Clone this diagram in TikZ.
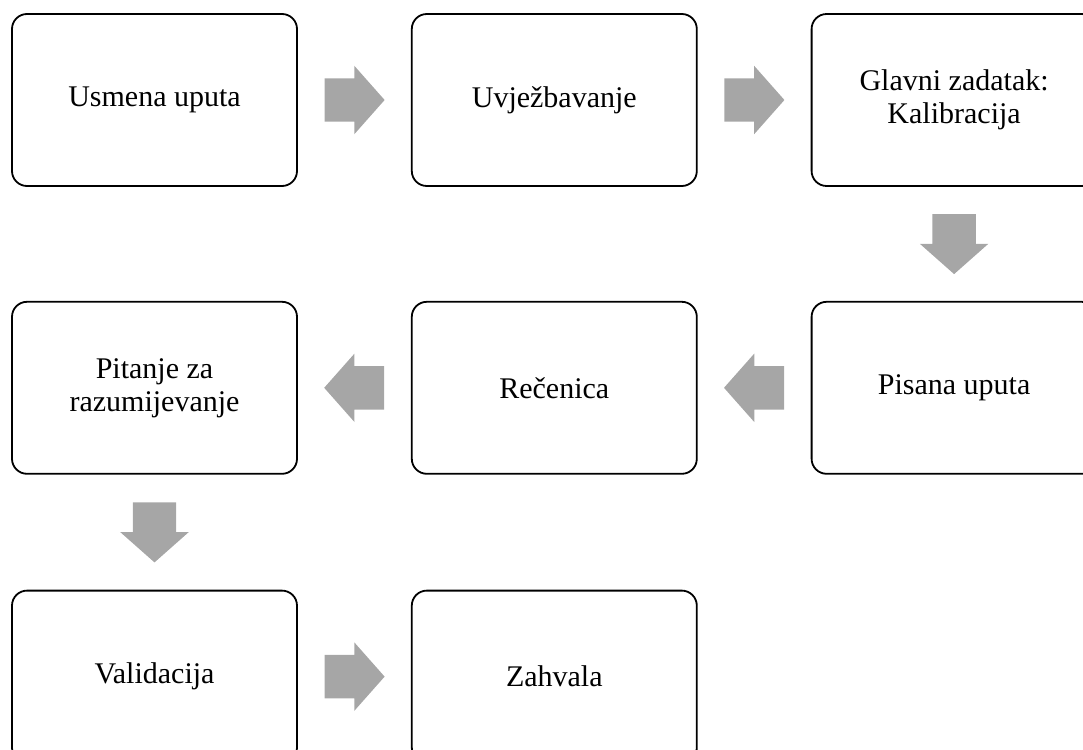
\documentclass[tikz,border=0pt]{standalone}
\usepackage{fontspec}
\setmainfont{Liberation Serif}
\usetikzlibrary{positioning,shapes.arrows,calc}
\definecolor{arrowgray}{HTML}{A6A6A6}

\begin{document}
\begin{tikzpicture}[x=1pt,y=1pt,node distance=114pt and 113pt]
  \tikzstyle{box}=[draw,rounded corners=15pt,line width=1.8pt,minimum width=285pt,minimum height=172pt,align=center,font=\fontsize{30}{33}\selectfont]
  \tikzstyle{stepper}=[single arrow,fill=arrowgray,draw=none,inner sep=0pt,text height=21.5pt,text depth=21.5pt,minimum height=60pt,minimum width=68pt,single arrow head extend=12.5pt,single arrow tip angle=97,anchor=tail]
  \clip (0,0) rectangle (1083,-749);
  % first row
  \node[box] (usmena) at (154.5,-100) {Usmena uputa};
  \node[box,right=of usmena] (uvjez) {Uvježbavanje};
  \node[box,right=of uvjez] (kalib) {Glavni zadatak:\\Kalibracija};
  % second row
  \node[box,below=of kalib] (pisana) {Pisana uputa};
  \node[box,left=of pisana] (recenica) {Rečenica};
  \node[box,left=of recenica] (pitanje) {Pitanje za\\razumijevanje};
  % third row
  \node[box,below=115pt of pitanje] (valid) {Validacija};
  \node[box,right=of valid] (zahvala) {Zahvala};
  % block arrows, tail 30pt before the middle of each gap
  \node[stepper] (a1) at ($(usmena.east)!0.5!(uvjez.west)+(-30,0)$) {};
  \node[stepper] (a2) at ($(uvjez.east)!0.5!(kalib.west)+(-30,0)$) {};
  \node[stepper,rotate=-90] (a3) at ($(kalib.south)!0.5!(pisana.north)+(0,30)$) {};
  \node[stepper,rotate=180] (a4) at ($(pisana.west)!0.5!(recenica.east)+(30,0)$) {};
  \node[stepper,rotate=180] (a5) at ($(recenica.west)!0.5!(pitanje.east)+(30,0)$) {};
  \node[stepper,rotate=-90] (a6) at ($(pitanje.south)!0.5!(valid.north)+(0,30)$) {};
  \node[stepper] (a7) at ($(valid.east)!0.5!(zahvala.west)+(-30,0)$) {};
\end{tikzpicture}
\end{document}
